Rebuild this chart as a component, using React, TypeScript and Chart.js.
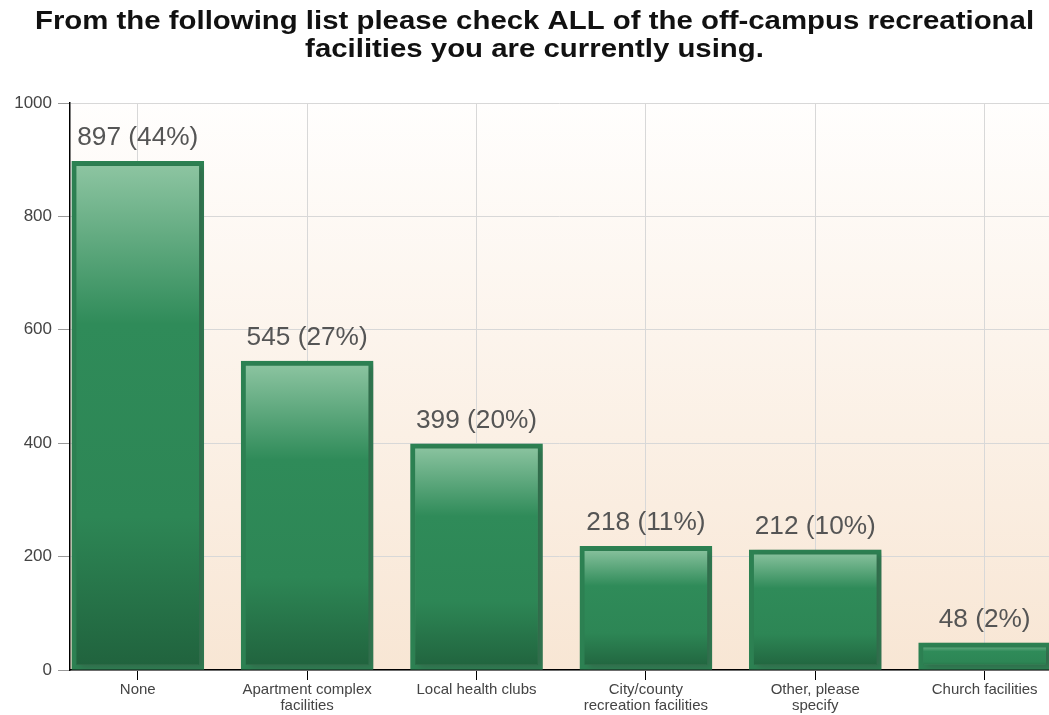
import React, { useEffect, useRef } from "react";
import { Chart, registerables } from "chart.js";

Chart.register(...registerables);

const titleLines = [
  "From the following list please check ALL of the off-campus recreational",
  "facilities you are currently using.",
];
const categories: string[][] = [
  ["None"],
  ["Apartment complex", "facilities"],
  ["Local health clubs"],
  ["City/county", "recreation facilities"],
  ["Other, please", "specify"],
  ["Church facilities"],
];
const counts = [897, 545, 399, 218, 212, 48];
const percents = [44, 27, 20, 11, 10, 2];
const yTicks = [0, 200, 400, 600, 800, 1000];

const FONT = "'Liberation Sans', Arial, sans-serif";

const titlePlugin = {
  id: "wideTitle",
  afterDraw(chart: any) {
    const { ctx, width } = chart;
    ctx.save();
    ctx.font = `bold 26px ${FONT}`;
    ctx.fillStyle = "#111111";
    ctx.textAlign = "center";
    ctx.textBaseline = "middle";
    titleLines.forEach((line, i) => {
      ctx.save();
      ctx.translate(width / 2 + 10, 22 + i * 28);
      ctx.scale(1.13, 1);
      ctx.fillText(line, 0, 0);
      ctx.restore();
    });
    ctx.restore();
  },
};

const bgPlugin = {
  id: "plotBg",
  beforeDraw(chart: any) {
    const { ctx, chartArea } = chart;
    if (!chartArea) return;
    const g = ctx.createLinearGradient(0, chartArea.top, 0, chartArea.bottom);
    g.addColorStop(0, "#fffefd");
    g.addColorStop(1, "#f8e6d4");
    ctx.save();
    ctx.fillStyle = g;
    ctx.fillRect(chartArea.left, chartArea.top, chartArea.right - chartArea.left, chartArea.bottom - chartArea.top);
    ctx.restore();
  },
};

const shadowPlugin = {
  id: "barShadow",
  beforeDatasetsDraw(chart: any) {
    const ctx = chart.ctx;
    ctx.save();
    ctx.shadowColor = "rgba(60,60,60,0.35)";
    ctx.shadowBlur = 6;
    ctx.shadowOffsetX = 4;
    ctx.shadowOffsetY = 2;
  },
  afterDatasetsDraw(chart: any) {
    chart.ctx.restore();
  },
};

const labelPlugin = {
  id: "barLabels",
  afterDraw(chart: any) {
    const { ctx } = chart;
    const meta = chart.getDatasetMeta(0);
    ctx.save();
    ctx.font = `25px ${FONT}`;
    ctx.fillStyle = "#555555";
    ctx.textAlign = "center";
    ctx.textBaseline = "middle";
    meta.data.forEach((bar: any, i: number) => {
      ctx.save();
      ctx.translate(bar.x, bar.y - 23);
      ctx.scale(1.05, 1);
      ctx.fillText(`${counts[i]} (${percents[i]}%)`, 0, 0);
      ctx.restore();
    });
    ctx.restore();
  },
};

export default function App() {
  const ref = useRef<HTMLCanvasElement | null>(null);
  useEffect(() => {
    document.body.style.margin = "0";
    const canvas = ref.current;
    if (!canvas) return;
    const chart = new Chart(canvas, {
      type: "bar",
      data: {
        datasets: [
          {
            data: counts.map((v, i) => ({ x: i, y: v })),
            barThickness: 132,
            borderWidth: 5,
            borderColor: "#2c8152",
            borderSkipped: false,
            backgroundColor: (c: any) => {
              const chart = c.chart;
              if (!chart.chartArea || !chart.scales.y) return "#2e8a57";
              const ys = chart.scales.y;
              const top = ys.getPixelForValue(c.parsed ? c.parsed.y : 0);
              const bottom = ys.getPixelForValue(0);
              if (!isFinite(top) || bottom - top < 1) return "#2e8a57";
              const g = chart.ctx.createLinearGradient(0, top, 0, bottom);
              g.addColorStop(0, "#8fc6a3");
              g.addColorStop(0.32, "#2f8b59");
              g.addColorStop(0.7, "#2d8655");
              g.addColorStop(1, "#20623d");
              return g;
            },
          },
        ],
      },
      options: {
        responsive: false,
        animation: false,
        layout: { padding: { left: 0, right: 0, top: 103, bottom: 0 } },
        plugins: {
          legend: { display: false },
          tooltip: { enabled: false },
          title: { display: false },
        },
        scales: {
          x: {
            type: "linear",
            offset: false,
            min: -0.4,
            max: 5.38,
            afterBuildTicks: (axis: any) => {
              axis.ticks = categories.map((_, i) => ({ value: i }));
            },
            afterFit: (axis: any) => {
              axis.height = 45;
            },
            ticks: {
              autoSkip: false,
              maxRotation: 0,
              padding: 2,
              color: "#444444",
              font: { family: FONT, size: 15, lineHeight: 1.07 },
              callback: (v: any) => categories[Math.round(Number(v))] ?? "",
            },
            grid: {
              offset: false,
              color: "#d8d8d8",
              tickColor: "#000000",
              tickLength: 10,
            },
            border: { color: "#000000", width: 1.5 },
          },
          y: {
            min: 0,
            max: 1000,
            afterBuildTicks: (axis: any) => {
              axis.ticks = yTicks.map((v) => ({ value: v }));
            },
            afterFit: (axis: any) => {
              axis.width = 70;
            },
            ticks: {
              padding: 6,
              color: "#444444",
              font: { family: FONT, size: 17 },
              callback: (v: any) => String(v),
            },
            grid: {
              color: "#d8d8d8",
              tickColor: "#999999",
              tickLength: 12,
            },
            border: { color: "#000000", width: 1.5 },
          },
        },
      },
      plugins: [bgPlugin, shadowPlugin, labelPlugin, titlePlugin],
    } as any);
    return () => chart.destroy();
  }, []);
  return <canvas ref={ref} width={1049} height={715} style={{ display: "block" }} />;
}
